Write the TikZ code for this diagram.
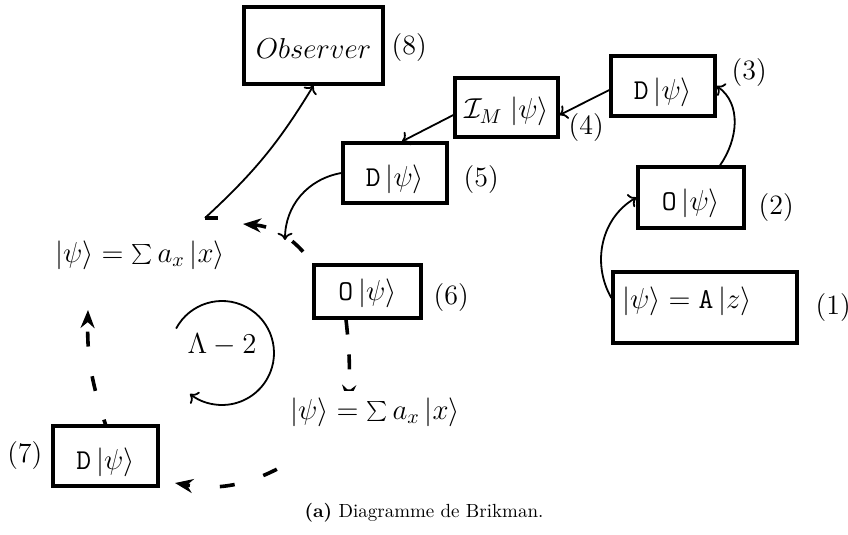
\documentclass[tikz,border=0pt]{standalone}
\usetikzlibrary{positioning,arrows.meta,backgrounds}
\newcommand{\ket}[1]{|#1\rangle}

\begin{document}
\begin{tikzpicture}[x=0.5pt, y=0.5pt, font=\fontsize{14}{16}\selectfont,
    box/.style={draw, line width=1.6pt, fill=white, minimum width=52pt, minimum height=30pt, text height=17pt, text depth=3.5pt},
    arrow/.style={->, line width=0.9pt},
    dashline/.style={line width=1.8pt, dash pattern=on 7.5pt off 15pt},
    dasharrow/.style={dashline, -{Stealth[length=9pt, width=7pt]}}]
    \useasboundingbox (0,0) rectangle (848,535);

    % boxes
    \node (a) [box, minimum width=92pt, minimum height=35.5pt, text width=83pt, align=left, text height=7.5pt, text depth=6pt] at (705,227.5) {$\ket{\psi} = \mathtt{A}\,\ket{z}$};
    \node (o2) [box, minimum width=53pt, minimum height=30.5pt] at (691,337.5) {$\mathtt{O}\,\ket{\psi}$};
    \node (d3) [box] at (663,449) {$\mathtt{D}\,\ket{\psi}$};
    \node (im) [box, minimum width=51.5pt, minimum height=29.5pt, text height=15pt] at (506.5,427.5) {$\mathcal{I}_M\;\ket{\psi}$};
    \node (d5) [box] at (395,362) {$\mathtt{D}\,\ket{\psi}$};
    \node (o6) [box, minimum width=53.5pt, minimum height=26.5pt, text height=13pt, inner ysep=2pt] at (367.5,243.5) {$\mathtt{O}\,\ket{\psi}$};
    \node (d7) [box, minimum width=52.5pt] at (105.5,79) {$\mathtt{D}\,\ket{\psi}$};
    \node (obs) [box, minimum width=69.5pt, minimum height=38.5pt] at (313.5,489.5) {$Observer$};

    % numbers
    \node (n1) [right=5pt of a] {(1)};
    \node (n2) [right=3pt of o2, yshift=-5pt] {(2)};
    \node (n3) [right=4pt of d3, yshift=6.5pt] {(3)};
    \node (n4) [right=1pt of im, yshift=-10pt] {(4)};
    \node (n5) [right=4pt of d5, yshift=-3.5pt] {(5)};
    \node (n6) [right=2pt of o6, yshift=-3pt] {(6)};
    \node (n7) [left=1pt of d7] {(7)};
    \node (n8) [right=0pt of obs, yshift=-1pt] {(8)};

    % states and loop
    \node (sumup) at (140,280) {$\ket{\psi} = \sum a_x\,\ket{x}$};
    \node (sumlow) [fill=white] at (375,123) {$\ket{\psi} = \sum a_x\,\ket{x}$};
    \node (lam) at (222,190) {$\Lambda - 2$};
    \coordinate (lamc) at (222,182);
    \node (cap) at (424,22) {\fontsize{9.5}{11}\selectfont\textbf{(a)} Diagramme de Brikman.};

    \coordinate (top) at (205,317);
    \coordinate (tipT) at (243,311);
    \coordinate (hook) at (285,295);
    \coordinate (tipR) at (348,132);
    \coordinate (startB) at (290,73);
    \coordinate (tipB) at (175,52);
    \coordinate (tipL) at (88,225);

    \draw [arrow] ([yshift=4.75pt]a.west) to[out=120, in=210] (o2.west);
    \draw [arrow] ([xshift=14.5pt]o2.north) to[out=55, in=-35] (d3.east);
    \draw [arrow] ([yshift=-2pt]d3.west) -- ([yshift=-3.75pt]im.east);
    \draw [arrow] ([yshift=-3.75pt]im.west) -- ([xshift=3.5pt]d5.north);
    \draw [arrow] (d5.west) to[out=190, in=90] (hook);
    \draw [arrow] (top) to[bend right=8] (obs.south);
    \draw [arrow] ([shift={(152:26pt)}]lamc) arc[start angle=152, end angle=-128, radius=26pt];

    \begin{scope}[on background layer]
    \draw [dasharrow, dash phase=15pt] (o6.north west) to[bend right=25] (tipT);
    \draw [dashline] (top) -- ++(13,0);
    \draw [dasharrow, dash pattern=on 7.5pt off 10pt] ([xshift=-10.75pt]o6.south) to[bend left=5] (tipR);
    \draw [dasharrow, dash phase=15pt] (startB) to[bend left=20] (tipB);
    \draw [dasharrow, dash phase=5pt] (d7.north) to[bend left=10] (tipL);
    \end{scope}
\end{tikzpicture}
\end{document}
